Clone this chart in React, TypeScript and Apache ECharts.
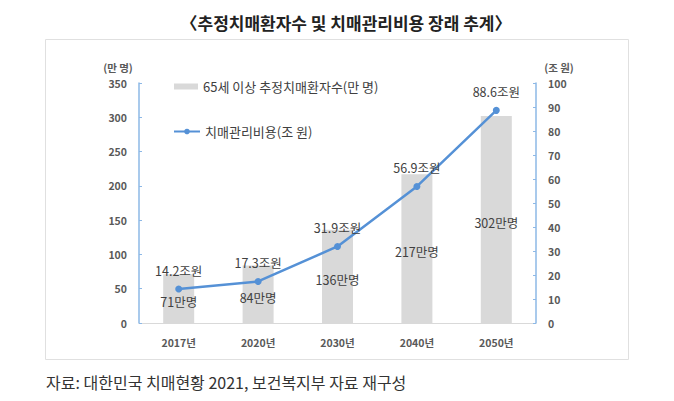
import React, { useEffect, useRef } from 'react';
import * as echarts from 'echarts';

const years = ['2017년', '2020년', '2030년', '2040년', '2050년'];
const patients = [71, 84, 136, 217, 302];
const costs = [14.2, 17.3, 31.9, 56.9, 88.6];

const barName = '65세 이상 추정치매환자수(만 명)';
const lineName = '치매관리비용(조 원)';
const titleText = '〈추정치매환자수 및 치매관리비용 장래 추계〉';
const sourceText = '자료: 대한민국 치매현황 2021, 보건복지부 자료 재구성';

const FONT = '"Noto Sans CJK KR", "Noto Sans", sans-serif';
const LINE_BLUE = '#5591d6';
const AXIS_BLUE = '#8db8e6';

const App: React.FC = () => {
  const chartRef = useRef<HTMLDivElement>(null);

  useEffect(() => {
    const chart = echarts.init(chartRef.current!, undefined, { renderer: 'svg' });

    const options = {
      animation: false,
      textStyle: { fontFamily: FONT },
      title: {
        text: titleText,
        left: 341,
        top: 9,
        textAlign: 'center',
        textStyle: { fontSize: 17, fontWeight: 'bold', color: '#222', fontFamily: FONT }
      },
      legend: [
        {
          data: [{ name: barName, icon: 'rect' }],
          left: 169,
          top: 75,
          itemWidth: 24,
          itemHeight: 6,
          textStyle: { fontSize: 13, color: '#404040', fontFamily: FONT }
        },
        {
          data: [lineName],
          left: 168,
          top: 120,
          itemWidth: 26,
          itemHeight: 7,
          textStyle: { fontSize: 13, color: '#404040', fontFamily: FONT }
        }
      ],
      grid: { left: 139, right: 138, top: 83, bottom: 78 },
      xAxis: {
        type: 'category',
        data: years,
        axisLine: { show: true, lineStyle: { color: '#d9d9d9' } },
        axisTick: { show: false },
        axisLabel: { margin: 14, fontSize: 10.5, fontWeight: 'bold', color: '#595959' }
      },
      yAxis: [
        {
          type: 'value',
          min: 0,
          max: 350,
          interval: 50,
          splitLine: { show: false },
          axisLine: { show: true, lineStyle: { color: AXIS_BLUE, width: 1.5 } },
          axisTick: { show: true, inside: true, length: 3, lineStyle: { color: AXIS_BLUE } },
          axisLabel: { margin: 12, fontSize: 10.5, fontWeight: 'bold', color: '#595959' }
        },
        {
          type: 'value',
          min: 0,
          max: 100,
          interval: 10,
          splitLine: { show: false },
          axisLine: { show: true, lineStyle: { color: AXIS_BLUE, width: 1.5 } },
          axisTick: { show: true, inside: true, length: 3, lineStyle: { color: AXIS_BLUE } },
          axisLabel: { margin: 12, fontSize: 10.5, fontWeight: 'bold', color: '#595959' }
        }
      ],
      series: [
        {
          name: barName,
          type: 'bar',
          yAxisIndex: 0,
          data: patients,
          barWidth: 31,
          itemStyle: { color: '#d9d9d9' },
          label: {
            show: true,
            position: 'inside',
            offset: [0, 3],
            formatter: '{c}만명',
            fontSize: 12.5,
            color: '#404040',
            fontFamily: FONT
          }
        },
        {
          name: lineName,
          type: 'line',
          yAxisIndex: 1,
          data: costs,
          symbol: 'circle',
          symbolSize: 7,
          lineStyle: { color: LINE_BLUE, width: 2.5 },
          itemStyle: { color: LINE_BLUE },
          label: {
            show: true,
            position: 'top',
            distance: 9,
            formatter: '{c}조원',
            fontSize: 12.5,
            color: '#404040',
            fontFamily: FONT
          }
        }
      ],
      graphic: [
        {
          type: 'rect',
          shape: { x: 45.5, y: 39.5, width: 583, height: 320 },
          style: { fill: 'none', stroke: '#e0e0e0', lineWidth: 1 },
          silent: true,
          z: -1
        },
        {
          type: 'text',
          x: 118,
          y: 67,
          style: {
            text: '(만 명)',
            align: 'center',
            verticalAlign: 'middle',
            fontSize: 10.5,
            fontWeight: 'bold',
            fill: '#595959',
            fontFamily: FONT
          }
        },
        {
          type: 'text',
          x: 559,
          y: 67,
          style: {
            text: '(조 원)',
            align: 'center',
            verticalAlign: 'middle',
            fontSize: 10.5,
            fontWeight: 'bold',
            fill: '#595959',
            fontFamily: FONT
          }
        },
        {
          type: 'text',
          x: 46,
          y: 382,
          style: {
            text: sourceText,
            align: 'left',
            verticalAlign: 'middle',
            fontSize: 16,
            fill: '#333',
            fontFamily: FONT
          }
        }
      ]
    };

    chart.setOption(options);

    return () => {
      chart.dispose();
    };
  }, []);

  return (
    <div
      ref={chartRef}
      style={{ position: 'fixed', left: 0, top: 0, width: '674px', height: '401px', background: '#fff' }}
    ></div>
  );
};

export default App;
